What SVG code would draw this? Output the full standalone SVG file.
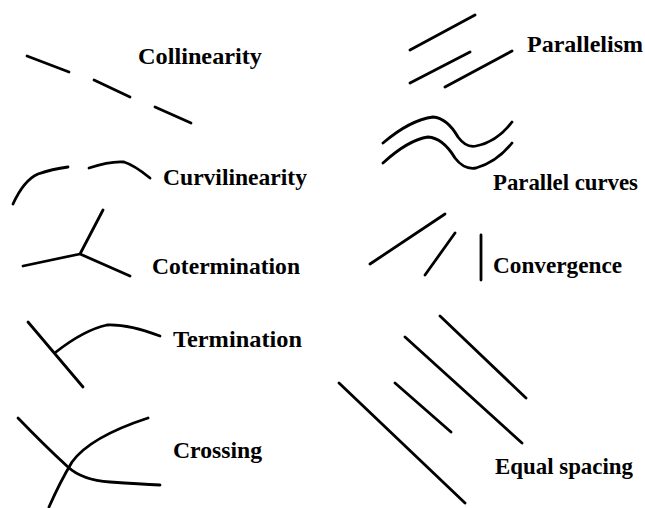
<svg xmlns="http://www.w3.org/2000/svg" width="645" height="508" viewBox="0 0 645 508" font-family="Liberation Serif, Times New Roman, serif" font-weight="bold" font-size="23.5">
<style>
.s{fill:none;stroke:#000;stroke-width:2.8;stroke-linecap:round;stroke-linejoin:round}
.t{fill:#000}
</style>
<rect width="645" height="508" fill="#fff"/>
<g id="collinearity">
<path class="s" d="M27 56L69 72M94 80L130 97M155 107L191 123"/>
<text class="t" x="138" y="64" textLength="124" lengthAdjust="spacingAndGlyphs">Collinearity</text>
</g>
<g id="curvilinearity">
<path class="s" d="M13 204Q24 180 38 174Q52 169 68 167"/>
<path class="s" d="M89 168Q110 161 124 162Q134 165 150 178"/>
<text class="t" x="163" y="185" textLength="144" lengthAdjust="spacingAndGlyphs">Curvilinearity</text>
</g>
<g id="cotermination">
<path class="s" d="M103 210L80 254M23 266L80 254L130 276"/>
<text class="t" x="152" y="274" textLength="148" lengthAdjust="spacingAndGlyphs">Cotermination</text>
</g>
<g id="termination">
<path class="s" d="M28 322L83 387"/>
<path class="s" d="M56 352Q84 330 107 325Q128 324 160 336"/>
<text class="t" x="173" y="347" textLength="129" lengthAdjust="spacingAndGlyphs">Termination</text>
</g>
<g id="crossing">
<path class="s" d="M18 418Q44 445 68 467Q82 480 110 482Q140 484 160 485"/>
<path class="s" d="M49 507Q60 482 72 462Q90 437 148 418"/>
<text class="t" x="173" y="458" textLength="89" lengthAdjust="spacingAndGlyphs">Crossing</text>
</g>
<g id="parallelism">
<path class="s" d="M410 50L475 15M410 83L470 52M445 87L512 51"/>
<text class="t" x="527" y="52" textLength="116" lengthAdjust="spacingAndGlyphs">Parallelism</text>
</g>
<g id="parallel-curves">
<path class="s" d="M383 143Q410 120 433 117Q447 118 458 137Q466 148 476 146Q497 142 512 122"/>
<path class="s" d="M383 163Q408 140 428 137Q443 138 455 158Q464 170 476 168Q497 162 512 143"/>
<text class="t" x="493" y="190" textLength="145" lengthAdjust="spacingAndGlyphs">Parallel curves</text>
</g>
<g id="convergence">
<path class="s" d="M370 264L445 214M425 275L455 233M481 235L481 280"/>
<text class="t" x="493" y="273" textLength="129" lengthAdjust="spacingAndGlyphs">Convergence</text>
</g>
<g id="equal-spacing">
<path class="s" d="M440 316L526 398M405 337L522 443M395 383L451 432M339 383L465 503"/>
<text class="t" x="495" y="474" textLength="138" lengthAdjust="spacingAndGlyphs">Equal spacing</text>
</g>
</svg>
